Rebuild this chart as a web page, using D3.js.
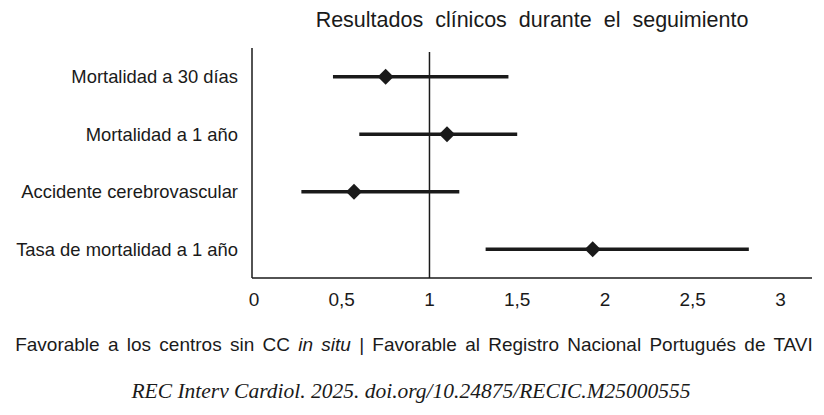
<!DOCTYPE html>
<html>
<head>
<meta charset="utf-8">
<script src="https://cdn.jsdelivr.net/npm/d3@7"></script>
<style>
  html, body { margin: 0; padding: 0; background: #fff; }
  svg { display: block; }
  text { font-family: "Liberation Sans", Arial, Helvetica, sans-serif; fill: #1a1a1a; }
</style>
</head>
<body>
<script>
const categories = ["Mortalidad a 30 días", "Mortalidad a 1 año", "Accidente cerebrovascular", "Tasa de mortalidad a 1 año"];
const estimates = [0.75, 1.10, 0.57, 1.93];
const lower = [0.45, 0.60, 0.27, 1.32];
const upper = [1.45, 1.50, 1.17, 2.82];
const tickValues = [0, 0.5, 1, 1.5, 2, 2.5, 3];
const tickLabels = ["0", "0,5", "1", "1,5", "2", "2,5", "3"];
const title = "Resultados clínicos durante el seguimiento";
const citation = "REC Interv Cardiol. 2025. doi.org/10.24875/RECIC.M25000555";

const W = 824, H = 415;
const svg = d3.select("body").append("svg").attr("width", W).attr("height", H);

const x = d3.scaleLinear().domain([0, 3.18]).range([254, 812]);
const y = d3.scaleBand().domain(categories).range([48, 278]);
const ink = "#1a1a1a";

// title
svg.append("text").attr("x", 532).attr("y", 27).attr("text-anchor", "middle")
  .style("font-size", "21.5px").style("word-spacing", "6px").text(title);

// axes
svg.append("line").attr("x1", 252).attr("x2", 252).attr("y1", 48).attr("y2", 278)
  .attr("stroke", ink).attr("stroke-width", 1.5);
svg.append("line").attr("x1", 252).attr("x2", x(3.18)).attr("y1", 278).attr("y2", 278)
  .attr("stroke", ink).attr("stroke-width", 1.5);
svg.append("line").attr("x1", x(1)).attr("x2", x(1)).attr("y1", 52).attr("y2", 278)
  .attr("stroke", ink).attr("stroke-width", 1.5);

// tick labels
svg.append("g").selectAll("text").data(tickValues).join("text")
  .attr("x", d => x(d)).attr("y", 306).attr("text-anchor", "middle")
  .style("font-size", "19px").text((d, i) => tickLabels[i]);

// category labels
svg.append("g").selectAll("text").data(categories).join("text")
  .attr("x", 238).attr("y", d => y(d) + y.bandwidth() / 2 + 6.5).attr("text-anchor", "end")
  .style("font-size", "18.4px").text(d => d);

// error bars
const rows = categories.map((c, i) => ({c, est: estimates[i], lo: lower[i], hi: upper[i]}));
svg.append("g").selectAll("line").data(rows).join("line")
  .attr("x1", d => x(d.lo)).attr("x2", d => x(d.hi))
  .attr("y1", d => y(d.c) + y.bandwidth() / 2).attr("y2", d => y(d.c) + y.bandwidth() / 2)
  .attr("stroke", ink).attr("stroke-width", 3.5);

// diamonds
const sym = d3.symbol(d3.symbolSquare, 128);
svg.append("g").selectAll("path").data(rows).join("path")
  .attr("d", sym)
  .attr("transform", d => `translate(${x(d.est)},${y(d.c) + y.bandwidth() / 2}) rotate(45)`)
  .attr("fill", ink);

// footer
const foot = svg.append("text").attr("x", 414).attr("y", 351).attr("text-anchor", "middle")
  .style("font-size", "19px").style("word-spacing", "3px");
foot.append("tspan").text("Favorable a los centros sin CC ");
foot.append("tspan").style("font-style", "italic").text("in situ");
foot.append("tspan").text(" | Favorable al Registro Nacional Portugués de TAVI");

svg.append("text").attr("x", 411).attr("y", 398).attr("text-anchor", "middle")
  .style("font-family", "'Liberation Serif', 'Times New Roman', serif")
  .style("font-style", "italic").style("font-size", "21.5px").text(citation);
</script>
</body>
</html>
